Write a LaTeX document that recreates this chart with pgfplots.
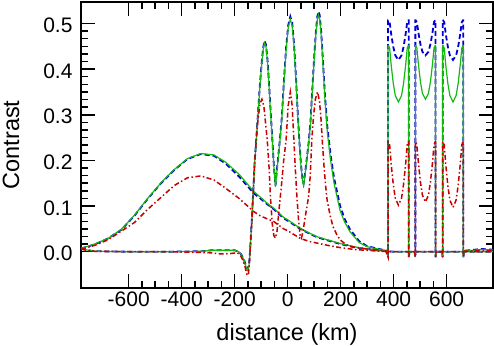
\documentclass[border=0pt]{standalone}
\usepackage{fontspec}
\setmainfont{Liberation Sans}
\usepackage{pgfplots}
\pgfplotsset{compat=1.18}
\usepackage{pgfplotstable}

\definecolor{cblue}{RGB}{0,0,210}
\definecolor{cgreen}{RGB}{20,185,20}
\definecolor{cred}{RGB}{200,0,0}

% structured profile (green)
\pgfplotstableread{
x y
-780 0.008
-760 0.004
-730 0.001
-600 0.000
-450 0.000
-320 0.001
-290 0.003
-200 0.003
-185 0.000
-175 -0.006
-165 -0.018
-158 -0.032
-151 -0.040
-146 -0.032
-143 -0.010
-140 0.020
-135 0.070
-130 0.130
-125 0.190
-119 0.240
-112 0.300
-105 0.360
-98 0.410
-93 0.440
-88 0.458
-82 0.450
-76 0.415
-70 0.360
-64 0.300
-58 0.244
-52 0.185
-46 0.142
-40 0.180
-34 0.215
-28 0.250
-22 0.290
-14 0.370
-6 0.440
2 0.490
10 0.509
17 0.495
24 0.450
31 0.380
38 0.300
44 0.240
50 0.190
56 0.155
60 0.146
65 0.165
72 0.200
79 0.235
86 0.280
93 0.350
100 0.420
107 0.480
112 0.508
116 0.519
121 0.510
127 0.470
134 0.400
141 0.330
150 0.260
162 0.200
175 0.150
198 0.090
215 0.065
235 0.044
270 0.020
300 0.011
330 0.007
360 0.004
376 0.002
379 -0.012
379 0.452
380.5 0.452
384.9 0.446
390.7 0.409
398.5 0.369
406.3 0.342
418 0.328
429.7 0.342
437.5 0.369
445.3 0.409
451.2 0.446
456 0.452
457 0.452
457 -0.012
460 0.000
479 0.000
482 -0.012
482 0.452
483 0.452
487.7 0.446
493.4 0.411
501 0.373
508.6 0.347
520 0.334
531.4 0.347
539 0.373
546.6 0.411
552.3 0.446
557 0.452
558 0.452
558 -0.012
561 0.000
582 0.000
585 -0.012
585 0.452
586 0.452
590.9 0.446
596.7 0.409
604.5 0.369
612.3 0.342
624 0.328
635.7 0.342
643.5 0.369
651.3 0.409
657.2 0.446
662 0.452
663 0.452
663 -0.012
666 0.002
700 0.003
730 0.005
760 0.004
780 0.004
}\greenA

% structured profile (blue)
\pgfplotstableread{
x y
-780 0.008
-760 0.004
-730 0.001
-600 0.000
-450 0.000
-320 0.001
-290 0.003
-200 0.003
-185 0.000
-175 -0.006
-165 -0.017
-158 -0.030
-151 -0.038
-146 -0.030
-143 -0.008
-140 0.022
-135 0.072
-130 0.132
-125 0.192
-119 0.243
-112 0.303
-105 0.364
-98 0.414
-93 0.444
-88 0.462
-82 0.454
-76 0.420
-70 0.365
-64 0.305
-58 0.248
-52 0.188
-46 0.145
-40 0.183
-34 0.218
-28 0.254
-22 0.295
-14 0.376
-6 0.446
2 0.496
10 0.515
17 0.502
24 0.456
31 0.386
38 0.305
44 0.244
50 0.193
56 0.158
60 0.149
65 0.168
72 0.203
79 0.238
86 0.284
93 0.355
100 0.426
107 0.486
112 0.515
116 0.526
121 0.518
127 0.478
134 0.410
141 0.340
150 0.272
162 0.212
175 0.162
198 0.100
215 0.072
235 0.049
270 0.023
300 0.012
330 0.008
360 0.004
376 0.002
379 -0.012
379 0.507
380.5 0.507
384.9 0.503
390.7 0.477
398.5 0.449
406.3 0.430
418 0.420
429.7 0.430
437.5 0.449
445.3 0.477
451.2 0.503
456 0.507
457 0.507
457 -0.012
460 0.000
479 0.000
482 -0.012
482 0.507
483 0.507
487.7 0.503
493.4 0.480
501 0.455
508.6 0.438
520 0.430
531.4 0.438
539 0.455
546.6 0.480
552.3 0.503
557 0.507
558 0.507
558 -0.012
561 0.000
582 0.000
585 -0.012
585 0.507
586 0.507
590.9 0.503
596.7 0.477
604.5 0.449
612.3 0.430
624 0.420
635.7 0.430
643.5 0.449
651.3 0.477
657.2 0.503
662 0.507
663 0.507
663 -0.012
666 0.002
700 0.004
730 0.006
760 0.005
780 0.004
}\blueA

% structured profile (red)
\pgfplotstableread{
x y
-780 0.006
-760 0.003
-730 0.001
-600 0.000
-450 0.000
-300 -0.002
-250 -0.005
-215 -0.004
-190 -0.002
-178 -0.008
-168 -0.020
-160 -0.035
-153 -0.052
-148 -0.050
-144 -0.020
-140 0.020
-135 0.070
-130 0.130
-125 0.190
-119 0.240
-112 0.290
-104 0.325
-97 0.334
-90 0.320
-84 0.285
-77 0.244
-71 0.193
-65 0.120
-58 0.060
-52 0.035
-46 0.030
-40 0.045
-33 0.090
-26 0.130
-21 0.160
-15 0.200
-6 0.244
2 0.320
10 0.350
17 0.320
23 0.250
30 0.170
35 0.120
41 0.070
47 0.035
52 0.030
58 0.045
66 0.075
73 0.100
79 0.120
85 0.165
91 0.244
98 0.300
105 0.335
113 0.350
120 0.330
126 0.290
131 0.240
138 0.180
144 0.140
149 0.113
160 0.080
171 0.055
185 0.038
198 0.026
215 0.018
235 0.012
270 0.008
320 0.005
370 0.002
379 -0.012
379 0.241
380.5 0.241
384.9 0.234
390.7 0.192
398.5 0.148
406.3 0.117
418 0.102
429.7 0.117
437.5 0.148
445.3 0.192
451.2 0.234
456 0.241
457 0.241
457 -0.012
460 0.000
479 0.000
482 -0.012
482 0.241
483 0.241
487.7 0.234
493.4 0.195
501 0.153
508.6 0.124
520 0.109
531.4 0.124
539 0.153
546.6 0.195
552.3 0.234
557 0.241
558 0.241
558 -0.012
561 0.000
582 0.000
585 -0.012
585 0.241
586 0.241
590.9 0.234
596.7 0.191
604.5 0.145
612.3 0.113
624 0.097
635.7 0.113
643.5 0.145
651.3 0.191
657.2 0.234
662 0.241
663 0.241
663 -0.012
666 0.001
700 0.002
740 0.003
780 0.002
}\redA

% broad profiles
\pgfplotstableread{
x g b r
-780 0.007 0.007 0.005
-728 0.017 0.016 0.014
-678 0.029 0.029 0.026
-628 0.049 0.048 0.045
-578 0.080 0.079 0.064
-528 0.117 0.116 0.093
-478 0.151 0.150 0.119
-428 0.180 0.179 0.145
-378 0.204 0.203 0.162
-328 0.215 0.214 0.166
-278 0.212 0.210 0.157
-234 0.196 0.193 0.139
-184 0.170 0.165 0.117
-128 0.132 0.128 0.088
-102 0.119 0.116 0.078
-77 0.106 0.104 0.072
-52 0.095 0.093 0.066
-15 0.075 0.073 0.050
0 0.070 0.068 0.046
48 0.051 0.050 0.029
85 0.040 0.039 0.022
110 0.033 0.032 0.019
150 0.026 0.025 0.014
198 0.018 0.017 0.009
250 0.011 0.010 0.005
298 0.006 0.006 0.003
350 0.002 0.002 0.001
400 0.000 0.000 0.000
780 0.000 0.000 0.000
}\broad

\begin{document}
\begin{tikzpicture}
\begin{axis}[
    name=ax,
    scale only axis,
    width=412bp, height=286bp,
    xmin=-780, xmax=775,
    ymin=-0.0795, ymax=0.547,
    axis line style={line width=1.5bp},
    tick style={line width=1.5bp, black},
    tick align=inside,
    major tick length=14bp,
    minor tick length=7bp,
    xtick={-600,-400,-200,0,200,400,600},
    xticklabels={-600,-400,-200,0,200,400,600},
    minor x tick num=3,
    ytick={0,0.1,0.2,0.3,0.4,0.5},
    yticklabels={0.0,0.1,0.2,0.3,0.4,0.5},
    minor y tick num=5,
    xtick pos=both, ytick pos=both,
    ticklabel style={font=\fontsize{21bp}{25bp}\selectfont},
    yticklabel style={xshift=-5bp, yshift=-2bp},
    xlabel={distance (km)},
    ylabel={Contrast},
    every axis x label/.style={at={(axis description cs:0.5,-0.161)}, anchor=center,
        font=\fontsize{23.5bp}{28bp}\selectfont},
    every axis y label/.style={at={(axis description cs:-0.17,0.5)}, anchor=center, rotate=90,
        font=\fontsize{23.5bp}{28bp}\selectfont},
    clip=true,
]
\addplot[cblue, line width=1.8bp, dash pattern=on 5bp off 3bp] table[x=x, y=y] {\blueA};
\addplot[cblue, line width=1.8bp, dash pattern=on 5bp off 3bp] table[x=x, y=b] {\broad};
\addplot[cgreen, line width=1.2bp] table[x=x, y=y] {\greenA};
\addplot[cgreen, line width=1.2bp] table[x=x, y=g] {\broad};
\addplot[cred, line width=1.5bp, dash pattern=on 5bp off 2.5bp on 1.5bp off 2.5bp] table[x=x, y=y] {\redA};
\addplot[cred, line width=1.5bp, dash pattern=on 5bp off 2.5bp on 1.5bp off 2.5bp] table[x=x, y=r] {\broad};
\end{axis}
\pgfresetboundingbox
\path (ax.south west) ++(-81bp,-58bp) rectangle ++(494bp,346bp);
\end{tikzpicture}
\end{document}
